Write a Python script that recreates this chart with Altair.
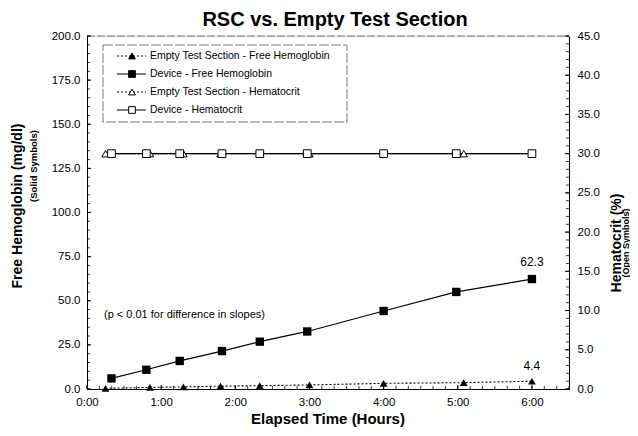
import altair as alt
import pandas as pd

# ---------------- data ----------------
t_empty = [0.25, 0.85, 1.30, 1.80, 2.33, 3.00, 4.00, 5.08, 6.00]
hb_empty = [0.4, 0.9, 1.2, 1.6, 1.9, 2.3, 3.2, 3.6, 4.4]
hct_empty = [30.0, 30.0, 30.0, 30.0, 30.0, 30.0, 30.0, 30.0, 30.0]

t_device = [0.33, 0.80, 1.25, 1.82, 2.33, 2.97, 4.00, 4.98, 6.00]
hb_device = [6.0, 10.9, 15.9, 21.5, 26.8, 32.6, 44.2, 55.0, 62.3]
hct_device = [30.0, 30.0, 30.0, 30.0, 30.0, 30.0, 30.0, 30.0, 30.0]

x_ticks = [0, 1, 2, 3, 4, 5, 6]
left_ticks = [0, 25, 50, 75, 100, 125, 150, 175, 200]
right_ticks = [0, 5, 10, 15, 20, 25, 30, 35, 40, 45]

legend_labels = [
    "Empty Test Section - Free Hemoglobin",
    "Device - Free Hemoglobin",
    "Empty Test Section - Hematocrit",
    "Device - Hematocrit",
]

FONT = "Liberation Sans"
W, H = 482, 353

df_empty = pd.DataFrame({"t": t_empty, "hb": hb_empty, "hct": hct_empty})
df_device = pd.DataFrame({"t": t_device, "hb": hb_device, "hct": hct_device})
df_lab_dev = df_device.tail(1)
df_lab_emp = df_empty.tail(1)

x_minor = [i / 6 for i in range(0, 40)]
left_minor = [i * 5 for i in range(0, 41)]
right_minor = [i * 1 for i in range(0, 46)]

x_scale = alt.Scale(domain=[0, 6.5], nice=False, zero=False)
yl_scale = alt.Scale(domain=[0, 200], nice=False)
yr_scale = alt.Scale(domain=[0, 45], nice=False)

x_axis = alt.Axis(values=x_ticks, labelExpr="floor(datum.value) + ':00'", ticks=False,
                  grid=False, title=None, labelFontSize=11.5, labelPadding=7, labelFlush=False,
                  domainColor="black", labelColor="black", labelFont=FONT)
yl_axis = alt.Axis(values=left_ticks, format=".1f", ticks=False, grid=False, title=None,
                   labelFontSize=11.5, labelPadding=7, labelFlush=False, domainColor="black",
                   labelColor="black", labelFont=FONT)
yr_axis = alt.Axis(values=right_ticks, format=".1f", ticks=False, grid=False, title=None,
                   orient="right", labelFontSize=11.5, labelPadding=8, labelFlush=False,
                   domainColor="black", labelColor="black", labelFont=FONT)


def X(field):
    return alt.X(field, type="quantitative", scale=x_scale, axis=x_axis, title=None)


def YL(field):
    return alt.Y(field, type="quantitative", scale=yl_scale, axis=yl_axis, title=None)


def YR(field):
    return alt.Y(field, type="quantitative", scale=yr_scale, axis=yr_axis, title=None)


# ---------------- left (free hemoglobin) group ----------------
hb_empty_line = alt.Chart(df_empty).mark_line(color="black", strokeWidth=1.1, strokeDash=[2, 2]).encode(
    x=X("t"), y=YL("hb"))
hb_empty_pts = alt.Chart(df_empty).mark_point(shape="triangle-up", filled=True, color="black",
                                              size=60, opacity=1).encode(x=X("t"), y=YL("hb"))
hb_dev_line = alt.Chart(df_device).mark_line(color="black", strokeWidth=1.2).encode(
    x=X("t"), y=YL("hb"))
hb_dev_pts = alt.Chart(df_device).mark_point(shape="square", filled=True, color="black",
                                             size=70, opacity=1).encode(x=X("t"), y=YL("hb"))
lab_dev = alt.Chart(df_lab_dev).mark_text(font=FONT, fontSize=12, dy=-17, color="black").encode(
    x=X("t"), y=YL("hb"), text=alt.Text("hb:Q", format=".1f"))
lab_emp = alt.Chart(df_lab_emp).mark_text(font=FONT, fontSize=12, dy=-15, color="black").encode(
    x=X("t"), y=YL("hb"), text=alt.Text("hb:Q", format=".1f"))

tick_l_major = alt.Chart(pd.DataFrame({"v": left_ticks})).mark_rule(color="black", strokeWidth=1).encode(
    y=YL("v"), x=alt.value(0), x2=alt.value(4))
tick_l_minor = alt.Chart(pd.DataFrame({"v": left_minor})).mark_rule(color="black", strokeWidth=0.8).encode(
    y=YL("v"), x=alt.value(0), x2=alt.value(3))
tick_x_major = alt.Chart(pd.DataFrame({"v": x_ticks})).mark_rule(color="black", strokeWidth=1).encode(
    x=X("v"), y=alt.value(H), y2=alt.value(H - 4))
tick_x_minor = alt.Chart(pd.DataFrame({"v": x_minor})).mark_rule(color="black", strokeWidth=0.8).encode(
    x=X("v"), y=alt.value(H), y2=alt.value(H - 3))

one = pd.DataFrame({"a": [0]})


def txt(s, x, y, size, bold=False, angle=0, align="center", baseline="middle"):
    return alt.Chart(one).mark_text(font=FONT, fontSize=size, fontWeight="bold" if bold else "normal",
                                    angle=angle, align=align, baseline=baseline, color="black").encode(
        x=alt.value(x), y=alt.value(y), text=alt.value(s))


top_border = alt.Chart(one).mark_rule(color="#777777", strokeWidth=1, strokeDash=[8, 2]).encode(
    x=alt.value(0), x2=alt.value(W), y=alt.value(0))

# legend box
LX0, LX1, LY0, LY1 = 16, 260, 9, 86
legend_box = alt.Chart(one).mark_rect(fill="white", stroke="#555555", strokeWidth=0.8,
                                      strokeDash=[10, 2]).encode(
    x=alt.value(LX0), x2=alt.value(LX1), y=alt.value(LY0), y2=alt.value(LY1))
row_y = [20, 38, 56, 74]
leg_layers = [legend_box]
for i, lab in enumerate(legend_labels):
    dash = [2, 2] if i % 2 == 0 else [1, 0]
    leg_layers.append(alt.Chart(one).mark_rule(color="black", strokeWidth=1.1, strokeDash=dash).encode(
        x=alt.value(30), x2=alt.value(59), y=alt.value(row_y[i])))
    shape = "triangle-up" if i % 2 == 0 else "square"
    fill = "black" if i < 2 else "white"
    leg_layers.append(alt.Chart(one).mark_point(shape=shape, filled=True, fill=fill, stroke="black",
                                                strokeWidth=1, size=45, opacity=1).encode(
        x=alt.value(45), y=alt.value(row_y[i])))
    leg_layers.append(txt(lab, 63, row_y[i], 10.5, align="left"))

titles = [
    txt("RSC vs. Empty Test Section", 248, -10, 20, bold=True, baseline="alphabetic"),
    txt("Free Hemoglobin (mg/dl)", -69, 170, 14, bold=True, angle=270),
    txt("(Solid Symbols)", -53, 130, 9.5, bold=True, angle=270),
    txt("Hematocrit (%)", 530, 207, 14, bold=True, angle=270),
    txt("(Open Symbols)", 539, 207, 9, bold=True, angle=270),
    txt("Elapsed Time (Hours)", 241, 383, 15, bold=True),
    txt("(p < 0.01 for difference in slopes)", 17, 279, 11, align="left"),
]

left = alt.layer(top_border, tick_l_major, tick_l_minor, tick_x_major, tick_x_minor,
                 hb_empty_line, hb_dev_line, hb_empty_pts, hb_dev_pts, lab_dev, lab_emp,
                 *leg_layers, *titles)

# ---------------- right (hematocrit) group ----------------
hct_empty_line = alt.Chart(df_empty).mark_line(color="black", strokeWidth=1.1, strokeDash=[2, 2]).encode(
    x=X("t"), y=YR("hct"))
hct_dev_line = alt.Chart(df_device).mark_line(color="black", strokeWidth=1.2).encode(
    x=X("t"), y=YR("hct"))
hct_empty_pts = alt.Chart(df_empty).mark_point(shape="triangle-up", filled=True, fill="white",
                                               stroke="black", strokeWidth=1, size=55,
                                               opacity=1).encode(x=X("t"), y=YR("hct"))
hct_dev_pts = alt.Chart(df_device).mark_point(shape="square", filled=True, fill="white",
                                              stroke="black", strokeWidth=1, size=60,
                                              opacity=1).encode(x=X("t"), y=YR("hct"))
tick_r_major = alt.Chart(pd.DataFrame({"v": right_ticks})).mark_rule(color="black", strokeWidth=1).encode(
    y=YR("v"), x=alt.value(W), x2=alt.value(W - 4))
tick_r_minor = alt.Chart(pd.DataFrame({"v": right_minor})).mark_rule(color="black", strokeWidth=0.8).encode(
    y=YR("v"), x=alt.value(W), x2=alt.value(W - 3))

right = alt.layer(tick_r_major, tick_r_minor, hct_empty_line, hct_dev_line, hct_empty_pts, hct_dev_pts)

chart = alt.layer(left, right).resolve_scale(y="independent").properties(
    width=W, height=H, autosize="none",
    padding={"left": 79, "top": 28, "right": 61, "bottom": 39},
).configure_view(stroke=None).configure(background="white")

chart.save("out.html", embed_options={"renderer": "svg", "actions": False})
